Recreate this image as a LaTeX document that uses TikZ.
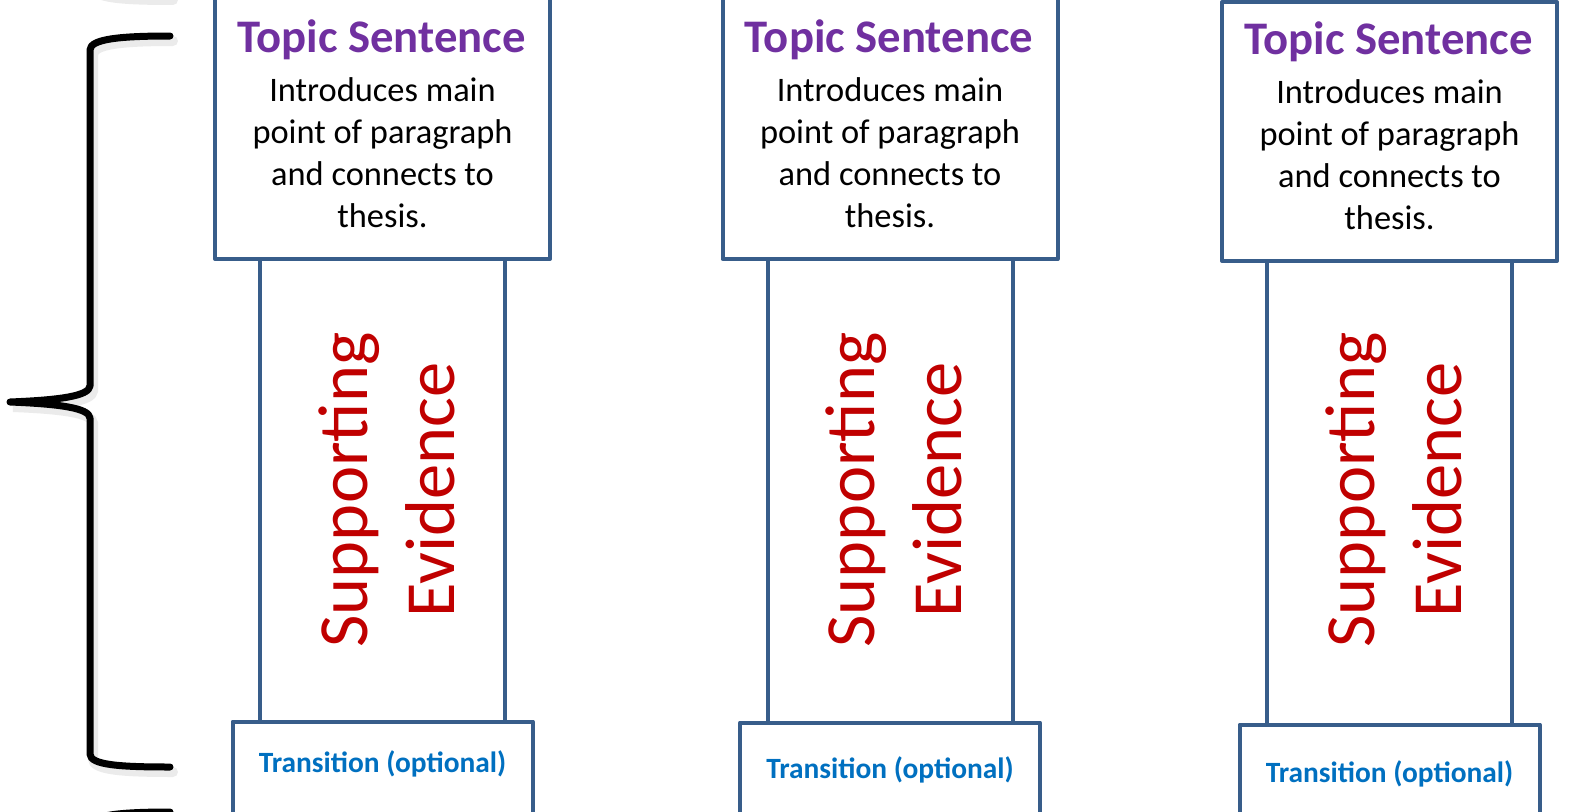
\documentclass[tikz,border=0pt]{standalone}
\usepackage{fontspec}
\setmainfont{Carlito}
\usetikzlibrary{fit}
\definecolor{boxblue}{HTML}{385D8A}
\definecolor{titlepurple}{HTML}{7030A0}
\definecolor{evidred}{HTML}{C00000}
\definecolor{transblue}{HTML}{0070C0}
\tikzset{
  boxline/.style={draw=boxblue,line width=4pt,line join=round,fill=white,inner sep=0pt,outer sep=0pt},
  titletext/.style={text=titlepurple,font=\fontsize{46.7}{56}\selectfont\bfseries,inner sep=0pt},
  introtext/.style={align=center,font=\fontsize{34.4}{41.7}\selectfont,inner sep=0pt},
  evidtext/.style={text=evidred,align=center,rotate=90,font=\fontsize{70.5}{87}\selectfont,inner sep=0pt},
  notetext/.style={text=transblue,font=\fontsize{29.4}{35}\selectfont\bfseries,inner sep=0pt},
  bracket/.style={line width=7pt,line cap=round,line join=round},
  bracketshade/.style={line width=10pt,draw=black,opacity=0.08,line cap=round}
}
\begin{document}
\begin{tikzpicture}[x=1pt,y=-1pt]
  \useasboundingbox (0,0) rectangle (1579,811);
  \clip (0,0) rectangle (1579,811);
  % curly bracket on the left, with bits of its neighbours above and below
  \foreach \dy in {-772,0,776}{
    \begin{scope}[shift={(0,\dy)}]
      \draw[bracketshade,shift={(3,5)}] (170,36) .. controls (120,36) and (90,39) .. (90,50) -- (90,386)
        .. controls (89,396) and (60,400) .. (10,402) .. controls (60,404) and (89,408) .. (90,418)
        -- (90,754) .. controls (90,765) and (120,767) .. (170,767);
      \draw[bracket] (170,36) .. controls (120,36) and (90,39) .. (90,50) -- (90,386)
        .. controls (89,396) and (60,400) .. (10,402) .. controls (60,404) and (89,408) .. (90,418)
        -- (90,754) .. controls (90,765) and (120,767) .. (170,767);
    \end{scope}
  }
  % the three paragraph pillars
  \foreach \n/\c/\top/\bot/\tr/\dy/\tb in {1/382.5/-20/259/721.5/0/772,
      2/890/-20/259/722.5/0/778, 3/1389.5/2/261/724.5/2/782}{
    \node[boxline,fit={(\c-122.5,\bot) (\c+122.5,\tr)}] (col\n) {};
    \node[boxline,fit={(\c-167.5,\top) (\c+167.5,\bot)}] (topic\n) {};
    \node[boxline,fit={(\c-150,\tr) (\c+150,840)}] (trans\n) {};
    \node[titletext,anchor=base] (title\n) at (\c-1,52+\dy) {Topic Sentence};
    \node[introtext,anchor=base] (intro\n) at (\c,227+\dy) {Introduces main\\point of paragraph\\and connects to\\thesis.};
    \node[evidtext] (evid\n) at (\c+4,490) {Supporting\\Evidence};
    \node[notetext,anchor=base] (note\n) at (\c,\tb) {Transition (optional)};
  }
\end{tikzpicture}
\end{document}
